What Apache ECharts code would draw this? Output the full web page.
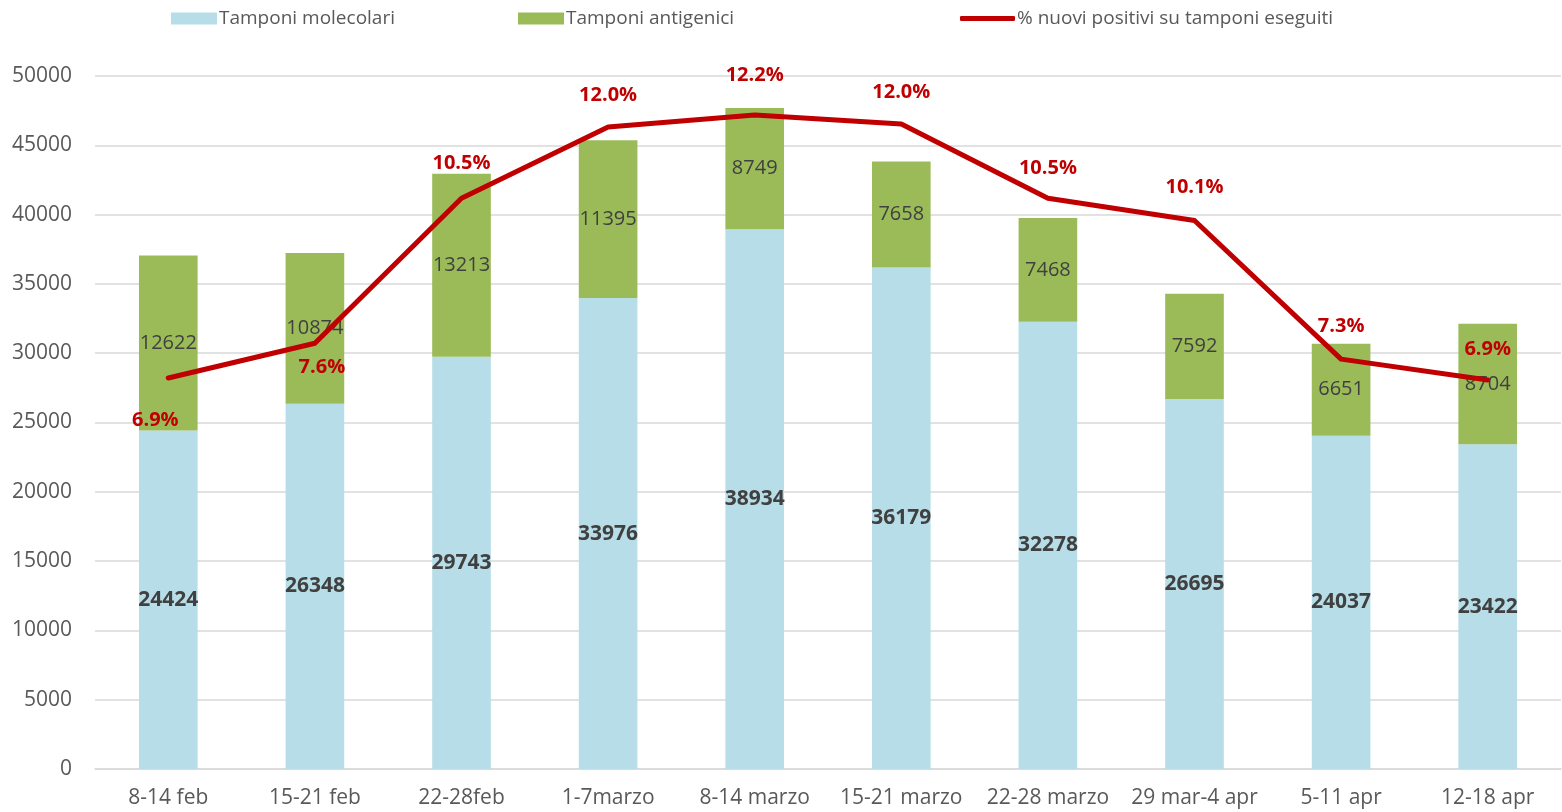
<!DOCTYPE html>
<html>
<head>
<meta charset="utf-8">
<script src="https://cdn.jsdelivr.net/npm/echarts@6/dist/echarts.min.js"></script>
<style>html,body{margin:0;padding:0;background:#fff}#c{width:1562px;height:812px}</style>
</head>
<body>
<div id="c"></div>
<script>
const categories = ['8-14 feb','15-21 feb','22-28feb','1-7marzo','8-14 marzo','15-21 marzo','22-28 marzo','29 mar-4 apr','5-11 apr','12-18 apr'];
const molecolari = [24424, 26348, 29743, 33976, 38934, 36179, 32278, 26695, 24037, 23422];
const antigenici = [12622, 10874, 13213, 11395, 8749, 7658, 7468, 7592, 6651, 8704];
const percentuali = [6.9, 7.6, 10.53, 11.97, 12.21, 12.03, 10.53, 10.08, 7.28, 6.86];
const yTicks = {min: 0, max: 50000, interval: 5000};

// label placement styling for the % labels (px offsets from each point)
const pctLabelOffsets = [[-13, 42], [7, 24], [0, -35], [0, -32], [0, -40], [0, -32], [0, -30], [0, -33], [0, -33], [0, -31]];

const FONT = '"Open Sans", "Noto Sans", sans-serif';
const chart = echarts.init(document.getElementById('c'));

const legendCommon = {
  top: 4, textStyle: {fontFamily: FONT, fontSize: 19, color: '#595959', padding: [0,0,0,-3]}
};

chart.setOption({
  animation: false,
  textStyle: {fontFamily: FONT},
  legend: [
    Object.assign({}, legendCommon, {left: 166, itemWidth: 46, itemHeight: 12, data: [{name: 'Tamponi molecolari', icon: 'rect'}]}),
    Object.assign({}, legendCommon, {left: 513, itemWidth: 46, itemHeight: 12, data: [{name: 'Tamponi antigenici', icon: 'rect'}]}),
    Object.assign({}, legendCommon, {left: 955, itemWidth: 55, itemHeight: 5, data: [{name: '% nuovi positivi su tamponi eseguiti', icon: 'roundRect'}]})
  ],
  grid: {left: 95, right: 1, top: 76, bottom: 43, containLabel: false},
  xAxis: {
    type: 'category', data: categories,
    axisLine: {lineStyle: {color: '#d9d9d9', width: 1.5}},
    axisTick: {show: false},
    axisLabel: {fontSize: 21, color: '#595959', margin: 19, interval: 0}
  },
  yAxis: [
    {
      type: 'value', min: yTicks.min, max: yTicks.max, interval: yTicks.interval,
      axisLine: {show: false}, axisTick: {show: false},
      axisLabel: {fontSize: 21, color: '#595959', margin: 23, formatter: v => String(v)},
      splitLine: {lineStyle: {color: '#d9d9d9', width: 1.5}}
    },
    {
      type: 'value', min: -1, max: 13, show: false, splitLine: {show: false}
    }
  ],
  series: [
    {
      name: 'Tamponi molecolari', type: 'bar', stack: 't', data: molecolari, barWidth: '40%',
      itemStyle: {color: '#B7DEE8'},
      label: {show: true, position: 'inside', color: '#404040', fontWeight: 'bold', fontSize: 21}
    },
    {
      name: 'Tamponi antigenici', type: 'bar', stack: 't', data: antigenici, barWidth: '40%',
      itemStyle: {color: '#9BBB59'},
      label: {show: true, position: 'inside', color: '#404040', fontSize: 20}
    },
    {
      name: '% nuovi positivi su tamponi eseguiti', type: 'line', yAxisIndex: 1, z: 5,
      data: percentuali.map((v, i) => ({value: v, label: {offset: pctLabelOffsets[i]}})),
      symbol: 'circle', symbolSize: 1, showSymbol: true,
      lineStyle: {color: '#C00000', width: 5, cap: 'round', join: 'round'},
      itemStyle: {color: '#C00000'},
      label: {show: true, position: 'inside', color: '#C00000', fontWeight: 'bold', fontSize: 20,
        formatter: p => p.value.toFixed(1) + '%'}
    }
  ]
});
</script>
</body>
</html>
